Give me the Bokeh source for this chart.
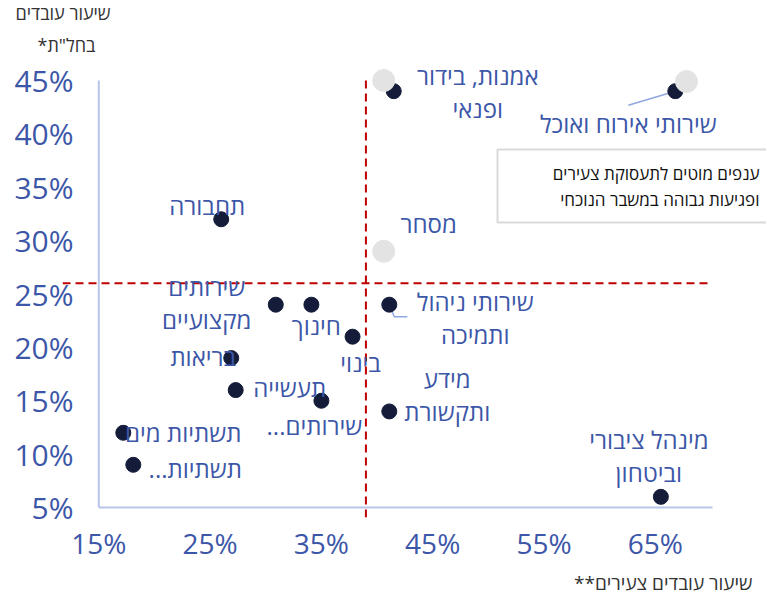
from bokeh.plotting import figure
from bokeh.models import ColumnDataSource, FixedTicker, Title
from bokeh.core.properties import value
from bokeh.embed import file_html
from bokeh.resources import INLINE

# ---------------- data ----------------
sectors = [
    "תחבורה",
    "שירותים\nמקצועיים",
    "חינוך",
    "בינוי",
    "בריאות",
    "תעשייה",
    "שירותים...\u200f",
    "תשתיות מים",
    "תשתיות...\u200f",
    "אמנות, בידור\nופנאי",
    "שירותי אירוח ואוכל",
    "מסחר",
    "שירותי ניהול\nותמיכה",
    "מידע\nותקשורת",
    "מינהל ציבורי\nוביטחון",
]
young_share = [26.0, 30.9, 34.1, 37.8, 26.9, 27.3, 35.0, 17.2, 18.1, 41.5, 66.8, 40.6, 41.1, 41.1, 65.5]
unpaid_leave_share = [32.0, 24.0, 24.0, 21.0, 19.0, 16.0, 15.0, 12.0, 9.0, 44.0, 44.0, 29.0, 24.0, 14.0, 6.0]

highlight_sectors = ["אמנות, בידור ופנאי", "שירותי אירוח ואוכל", "מסחר"]
highlight_x = [40.6, 67.8, 40.6]
highlight_y = [45.0, 44.9, 29.0]

x_ticks = [15, 25, 35, 45, 55, 65]
y_ticks = [5, 10, 15, 20, 25, 30, 35, 40, 45]
x_split = 39.0
y_split = 26.0

y_title = ["שיעור עובדים", "בחל\"ת*\u200f"]
x_title = "שיעור עובדים צעירים**\u200f"
box_text = "ענפים מוטים לתעסוקת צעירים\nופגיעות גבוהה במשבר הנוכחי"

# ---------------- layout helpers (page px -> data) ----------------
PXX = 11.13     # px per 1% on x
PXY = 10.675    # px per 1% on y
X15 = 98.3      # page x of 15%
Y45 = 80.0      # page y of 45%


def X(px):
    return 15 + (px - X15) / PXX


def Y(py):
    return 45 - (py - Y45) / PXY


W, H = 766, 599
frame_left, frame_right, frame_top, frame_bottom = 62, W, 67, 517

TEXT_BLUE = "#3c57a8"
DOT = "#141c3a"
FONT = "Open Sans"

p = figure(width=W, height=H, output_backend="svg", toolbar_location=None,
           x_range=(X(frame_left), X(frame_right)), y_range=(Y(frame_bottom), Y(frame_top)),
           min_border_left=frame_left, min_border_right=W - frame_right,
           min_border_top=frame_top, min_border_bottom=H - frame_bottom)
p.outline_line_color = None
p.xgrid.visible = False
p.ygrid.visible = False
p.background_fill_color = "white"
p.border_fill_color = "white"

for ax, ticks, fs in ((p.xaxis[0], x_ticks, "28px"), (p.yaxis[0], y_ticks, "30px")):
    ax.ticker = FixedTicker(ticks=ticks)
    ax.major_label_overrides = {t: f"{t}%" for t in ticks}
    ax.axis_line_color = None
    ax.major_tick_line_color = None
    ax.minor_tick_line_color = None
    ax.major_label_text_font = FONT
    ax.major_label_text_font_size = fs
    ax.major_label_text_color = TEXT_BLUE
p.yaxis[0].major_label_standoff = -17
p.xaxis[0].major_label_standoff = 0

# y axis title (top-left, two lines, stacked above the frame)
p.add_layout(Title(text=y_title[1], align="left", offset=37 - frame_left, standoff=22,
                   text_font=FONT, text_font_size="18px", text_font_style="normal",
                   text_color="#333333"), "above")
p.add_layout(Title(text=y_title[0], align="left", offset=15 - frame_left, standoff=-11,
                   text_font=FONT, text_font_size="18px", text_font_style="normal",
                   text_color="#333333"), "above")
# x axis title (below, right-aligned)
p.add_layout(Title(text=x_title, align="right", offset=frame_right - 752, standoff=6,
                   text_font=FONT, text_font_size="19px", text_font_style="normal",
                   text_color="#333333"), "below")

# axis lines (drawn inside the frame)
x_axis_end = X(712)
p.line([15, 15], [5, 45], line_color="#b7c5e8", line_width=2)
p.line([15, x_axis_end], [5, 5], line_color="#b7c5e8", line_width=2)

# red dashed split lines
p.line([x_split, x_split], [45, Y(frame_bottom)], line_color="#c00000", line_width=2, line_dash="8 5")
p.line([X(frame_left), x_axis_end], [y_split, y_split], line_color="#c00000", line_width=2, line_dash="8 5")

# legend box
p.quad(left=[X(497)], right=[X(800)], top=[Y(149)], bottom=[Y(222)],
       fill_color="white", line_color="#d9d9d9", line_width=2)
p.text(x=[X(759)], y=[Y(186)], text=[box_text], text_align="right", text_baseline="middle",
       text_font=value(FONT), text_font_size="17px", text_color="#111111", text_line_height=1.15)

# leader lines
i_hosp = sectors.index("שירותי אירוח ואוכל")
i_mgmt = sectors.index("שירותי ניהול\nותמיכה")
lx = [[young_share[i_hosp], young_share[i_hosp] - 47 / PXX],
      [young_share[i_mgmt], young_share[i_mgmt] + 5 / PXX, young_share[i_mgmt] + 18 / PXX]]
ly = [[unpaid_leave_share[i_hosp], unpaid_leave_share[i_hosp] - 14 / PXY],
      [unpaid_leave_share[i_mgmt], unpaid_leave_share[i_mgmt] - 12 / PXY, unpaid_leave_share[i_mgmt] - 12 / PXY]]
p.multi_line(xs=lx, ys=ly, line_color="#8fa8e0", line_width=1.5)

# label offsets in px (dx right, dy down)
dx = [-14, -69, 5, 8, -28, 54, -7, 60, 62, 84, -47, 45, 86, 58, -12]
dy = [-14, -2, 21, 26, -2, -3, 25, 0, 4, 1, 32, -28, 13, -16, -41]

src = ColumnDataSource(dict(x=young_share, y=unpaid_leave_share, name=sectors, dx=dx, dy=dy))
p.scatter("x", "y", source=src, size=15, fill_color=DOT, line_color=DOT)
p.text("x", "y", text="name", source=src, x_offset="dx", y_offset="dy",
       text_align="center", text_baseline="middle", text_font=value(FONT),
       text_font_size="24px", text_color=TEXT_BLUE, text_line_height=1.0)

hsrc = ColumnDataSource(dict(x=highlight_x, y=highlight_y, name=highlight_sectors))
p.scatter("x", "y", source=hsrc, size=22, fill_color="#e3e3e3", line_color="#e3e3e3")

open("out.html", "w").write(file_html(p, INLINE))
